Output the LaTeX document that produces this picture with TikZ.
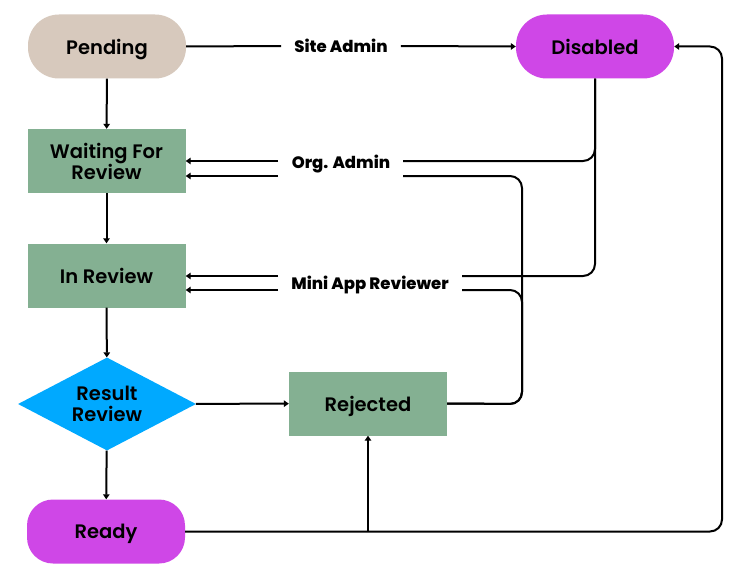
\documentclass[tikz,border=0pt]{standalone}
\usepackage{fontspec}
\setmainfont{Poppins}
\newfontfamily\nodefont{Poppins SemiBold}
\newfontfamily\labfont{Poppins ExtraBold}
\usetikzlibrary{shapes.geometric,arrows.meta}
\definecolor{beige}{HTML}{D7C9BD}
\definecolor{mag}{HTML}{CF47E7}
\definecolor{sage}{HTML}{84B092}
\definecolor{sky}{HTML}{00A9FF}
\tikzset{
  base/.style={draw=none,inner sep=0pt,text depth=0pt,minimum width=158pt,minimum height=64pt,align=center,font=\nodefont\fontsize{19.5}{21}\selectfont},
  pill/.style={base,rounded corners=31pt},
  pilltwo/.style={base,rounded corners=26pt},
  box/.style={base,fill=sage},
  dia/.style={base,shape=diamond,aspect=1.9,minimum width=178pt,minimum height=93pt,fill=sky},
  lab/.style={inner xsep=13pt,inner ysep=0pt,text depth=0pt,font=\labfont\fontsize{16.5}{18}\selectfont},
  ln/.style={line width=2pt,rounded corners=12pt},
  arr/.style={ln,-{Triangle[length=5pt,width=6.5pt]}}
}
\begin{document}
\begin{tikzpicture}[x=1pt,y=-1pt]
\useasboundingbox (0,0) rectangle (747,586);
\fill[white] (0,0) rectangle (747,586);
\node[pill,fill=beige] (pend) at (107,46.5) {Pending};
\node[pill,fill=mag] (dis) at (595,46.5) {Disabled};
\node[box] (wait) at (106.5,161) {Waiting For\\Review};
\node[box] (inrev) at (106.5,275.5) {In Review};
\node[dia] (res) at (107,404) {Result\\Review};
\node[box] (rej) at (368,403.5) {Rejected};
\node[pilltwo,fill=mag] (ready) at (106,531.5) {Ready};
\node[lab] (site) at (341,46) {Site Admin};
\node[lab] (org) at (341,162) {Org. Admin};
\node[lab] (mini) at (370,283) {Mini App Reviewer};
\coordinate (orgR) at (403,161);
\coordinate (orgL) at (278,161);
\coordinate (orgRb) at (403,176);
\coordinate (orgLb) at (278,176);
\coordinate (miniR) at (462,276);
\coordinate (miniL) at (278,276);
\coordinate (miniRb) at (462,290);
\coordinate (miniLb) at (278,290);
\coordinate (rejturn) at (522,404);
\coordinate (readyturn) at (722,531.5);
% vertical flow
\draw[arr] (pend) -- (wait);
\draw[arr] (wait) -- (inrev);
\draw[arr] (inrev) -- (res);
\draw[arr] (res) -- (ready);
\draw[arr] (res) -- (rej);
% site admin
\draw[ln] (pend.east) -- (site.west);
\draw[arr] (site.east) -- (dis.west);
% from disabled
\draw[ln] (dis.south) |- (orgR);
\draw[ln] (dis.south) |- (miniR);
\draw[arr] (orgL) -- (wait.east |- orgL);
\draw[arr] (miniL) -- (inrev.east |- miniL);
% from rejected
\draw[ln] (rej.east) -- (rejturn) |- (orgRb);
\draw[ln] (rej.east) -- (rejturn) |- (miniRb);
\draw[arr] (orgLb) -- (wait.east |- orgLb);
\draw[arr] (miniLb) -- (inrev.east |- miniLb);
% from ready
\draw[arr] (ready.east) -- (readyturn) |- (dis.east);
\draw[arr] (rej.south |- ready.east) -- (rej.south);
\end{tikzpicture}
\end{document}
